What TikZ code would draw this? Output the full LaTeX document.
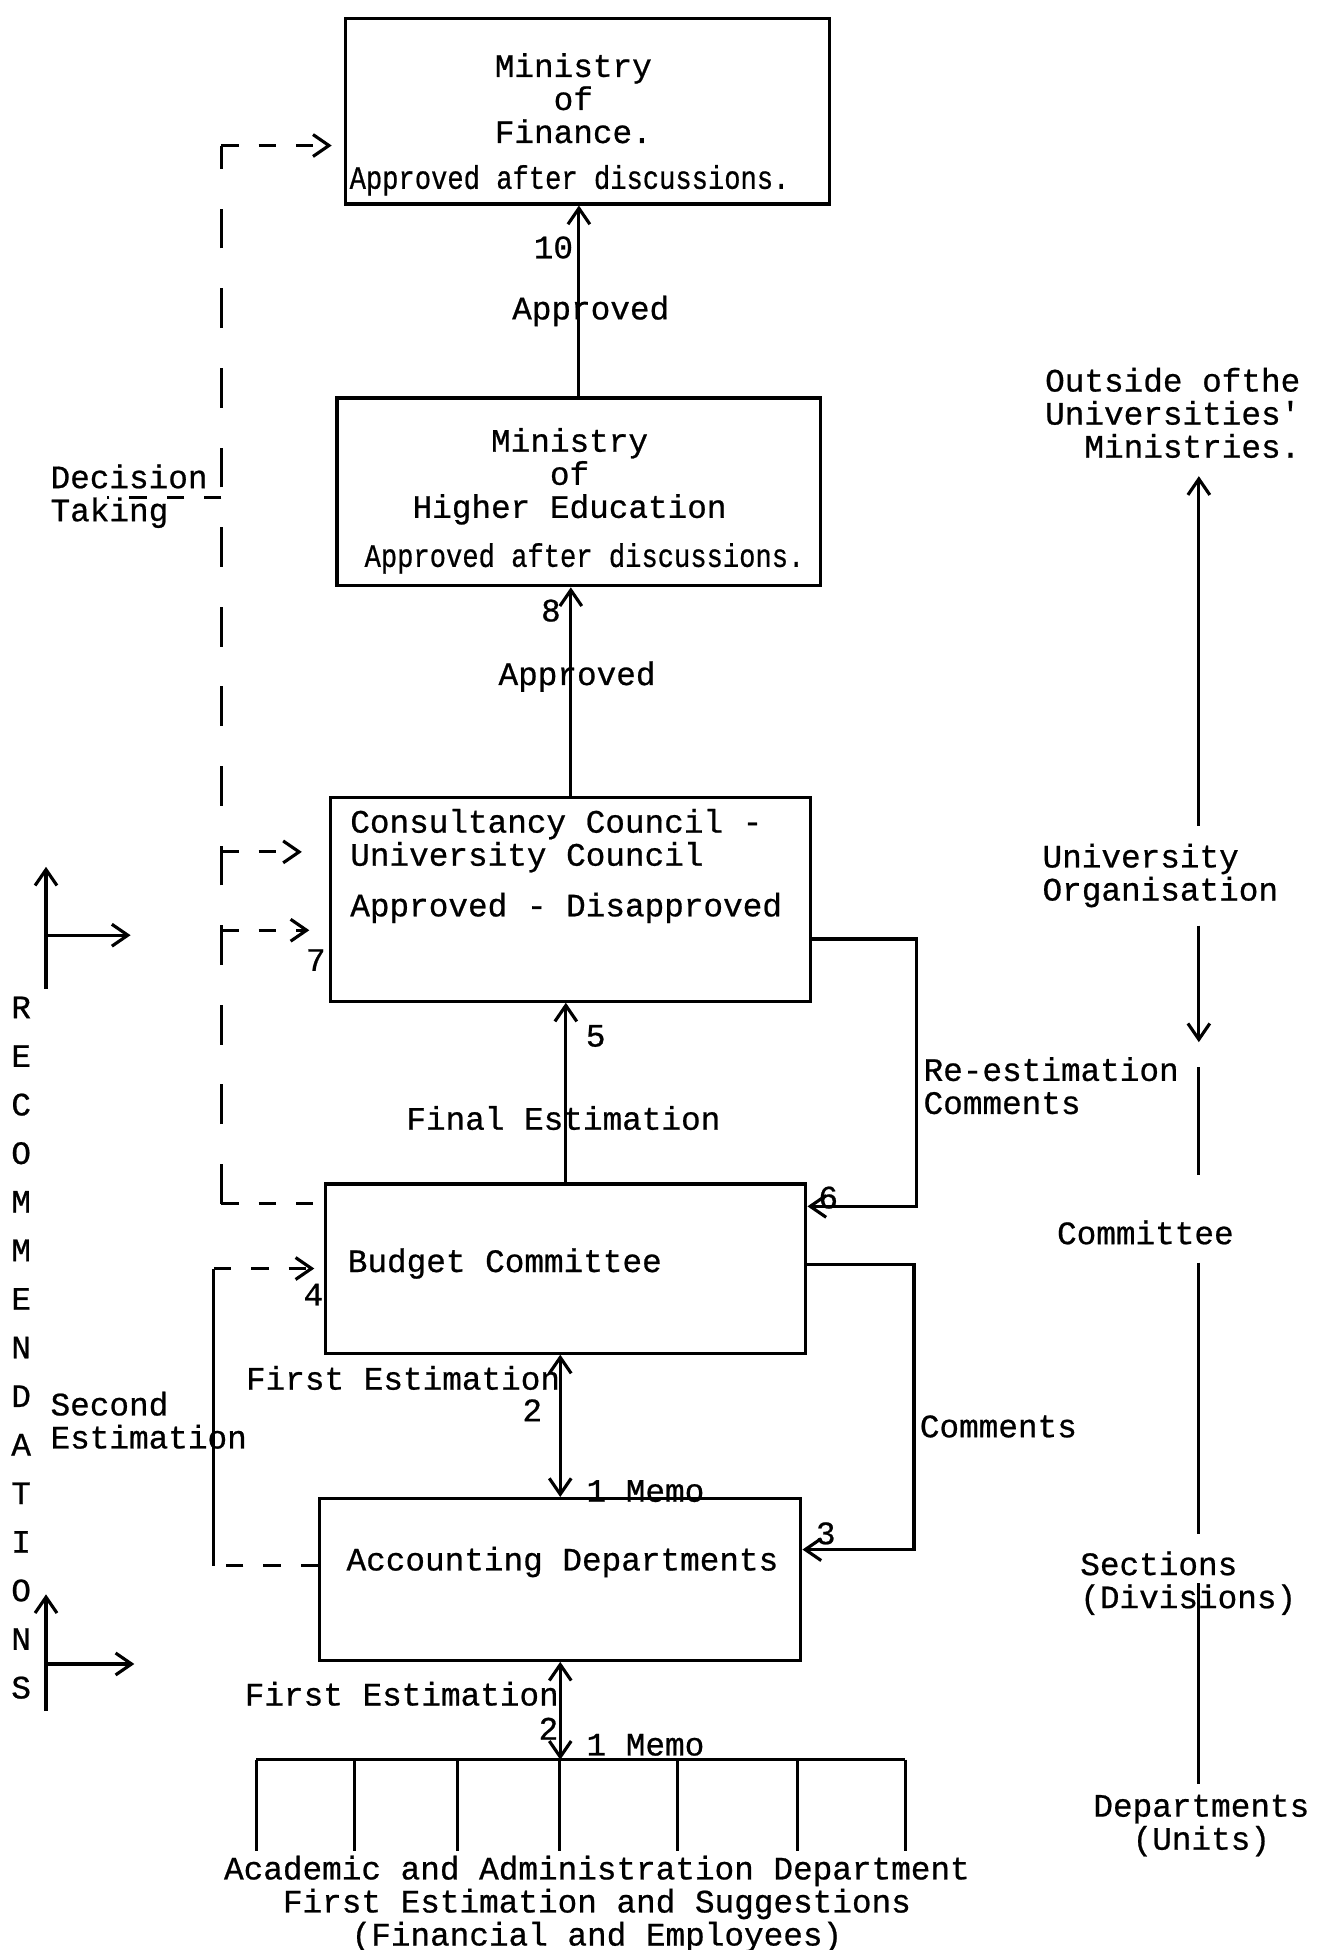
\documentclass[tikz,border=0pt]{standalone}
\usepackage{fontspec}
\setmonofont{Liberation Mono}[FakeBold=0.7]
\usetikzlibrary{arrows.meta,fit}
\tikzset {>={Straight Barb[length=3.2mm,width=4.4mm]}}
\newcommand\lblfont{\fontsize{18.7pt}{18.9pt}\selectfont\ttfamily}
\newcommand\narrow[1]{\scalebox{0.83}[1]{#1}}

\begin{document}
\begin{tikzpicture}[x=0.025cm,y=-0.025cm,line width=1.8pt,
  box/.style={draw,inner sep=0pt},
  lbl/.style={font=\lblfont,inner sep=1pt},
  longdash/.style={dash pattern=on 0.8cm off 0.8cm},
  shortdash/.style={dash pattern=on 0.35cm off 0.4cm}]
\useasboundingbox (0,0) rectangle (1067,1568);

% the five boxes
\node[box,fit={(278,15) (667,164)}] (fin) {};
\node[box,fit={(271,320) (660,471)}] (hed) {};
\node[box,fit={(266,641) (652,805)}] (cons) {};
\node[box,fit={(262,952) (648,1088)}] (bud) {};
\node[box,fit={(257,1205) (644,1335)}] (acc) {};

\node[lbl,align=center] (finT) at (461,79) {Ministry\\of\\Finance.};
\node[lbl] (finA) at (458,145) {\narrow{Approved after discussions.}};
\node[lbl,align=center] (hedT) at (458,383) {Ministry\\of\\Higher Education};
\node[lbl] (hedA) at (470,449) {\narrow{Approved after discussions.}};
\node[lbl,anchor=west,align=left] (consT) at (279,676) {Consultancy Council -\\University Council};
\node[lbl,anchor=west] (consA) at (279,730) {Approved - Disapproved};
\node[lbl,anchor=west] (budT) at (277,1016) {Budget Committee};
\node[lbl,anchor=west] (accT) at (276,1256) {Accounting Departments};

% upward flow
\draw[->] (hed.north) -- (hed.north |- fin.south);
\draw[->] (cons.north) -- (cons.north |- hed.south);
\draw[->] (bud.north) -- (bud.north |- cons.south);
\draw[<->] (acc.north) -- (acc.north |- bud.south);

\node[lbl] (l10) at (445,199) {10};
\node[lbl] (ap1) at (475,250) {Approved};
\node[lbl] (l8) at (443,491) {8};
\node[lbl] (ap2) at (464,544) {Approved};
\node[lbl] (l5) at (479,833) {5};
\node[lbl] (fe) at (453,899) {Final Estimation};
\node[lbl,anchor=east] (fe1) at (453,1108) {First Estimation};
\node[lbl] (l2a) at (428,1134) {2};
\node[lbl,anchor=west] (m1) at (469,1199) {1 Memo};
\node[lbl,anchor=east] (fe2) at (452,1362) {First Estimation};
\node[lbl] (l2b) at (441,1390) {2};
\node[lbl,anchor=west] (m2) at (469,1403) {1 Memo};

% departments
\node[lbl,align=center] (dept) at (480,1531) {Academic and Administration Department\\First Estimation and Suggestions\\(Financial and Employees)};
\coordinate (busL) at (206,1415);
\coordinate (busR) at (728,1415);
\draw (busL) -- (busR);
\foreach \x in {206,285,368,450,545,641,728}
  \draw (\x,1415) -- (\x,1488);
\draw[<->] (acc.south) -- (acc.south |- busL);

% comments back down
\coordinate (reT) at (737,755);
\coordinate (reB) at (737,970);
\draw[->] (reT -| cons.east) -- (reT) -- (reB) -- (reB -| bud.east);
\coordinate (cmT) at (735,1017);
\coordinate (cmB) at (735,1246);
\draw[->] (cmT -| bud.east) -- (cmT) -- (cmB) -- (cmB -| acc.east);
\node[lbl] (l6) at (666,963) {6};
\node[lbl] (l3) at (664,1233) {3};
\node[lbl,anchor=west,align=left] (reest) at (740,873) {Re-estimation\\Comments};
\node[lbl,anchor=west] (comt) at (737,1147) {Comments};

% second estimation
\coordinate (seT) at (172,1020);
\coordinate (seB) at (172,1259);
\draw[shortdash] (seB -| acc.west) -- (seB);
\draw (seB) -- (seT);
\draw[shortdash,->,shorten >=0.2cm] (seT) -- (seT -| bud.west);
\node[lbl] (l4) at (252,1041) {4};
\node[lbl,anchor=west,align=left] (second) at (38,1142) {Second\\Estimation};

% decision taking
\coordinate (dtT) at (178,117);
\coordinate (dtB) at (178,968);
\coordinate (dtD) at (178,400);
\coordinate (dtL) at (86,400);
\coordinate (dtC1) at (178,685);
\coordinate (dtC2) at (178,748);
\draw[longdash] (dtB) -- (dtT);
\draw[shortdash] (dtB) -- (dtB -| bud.west);
\draw[shortdash,->,shorten >=0.25cm] (dtT) -- (dtT -| fin.west);
\draw[shortdash] (dtD) -- (dtL);
\draw[shortdash,->,shorten >=0.55cm] (dtC1) -- (dtC1 -| cons.west);
\draw[shortdash,->,shorten >=0.4cm] (dtC2) -- (dtC2 -| cons.west);
\node[lbl] (l7) at (254,772) {7};
\node[lbl,anchor=west,align=left] (dec) at (38,399) {Decision\\Taking};

% recommendations
\foreach \ch [count=\i] in {R,E,C,O,M,M,E,N,D,A,T,I,O,N,S}
  \node[lbl] (rec\i) at (17,{771+39.07*\i}) {\ch};
\coordinate (ra) at (37,752);
\coordinate (raT) at (37,697);
\coordinate (raB) at (37,795);
\coordinate (raR) at (105,752);
\draw[->] (raB) -- (raT);
\draw[->] (ra) -- (raR);
\coordinate (rb) at (37,1338);
\coordinate (rbT) at (37,1282);
\coordinate (rbB) at (37,1376);
\coordinate (rbR) at (108,1338);
\draw[->] (rbB) -- (rbT);
\draw[->] (rb) -- (rbR);

% levels on the right
\node[lbl,align=right] (outside) at (943,332) {Outside ofthe\\Universities'\\Ministries.};
\node[lbl,align=left] (uniorg) at (933,704) {University\\Organisation};
\node[lbl] (comm) at (921,991) {Committee};
\node[lbl,anchor=west,align=left] (sect) at (866,1273) {Sections\\(Divisions)};
\node[lbl,align=center] (depts) at (966,1468) {Departments\\(Units)};
\coordinate (oc) at (964,0);
\coordinate (oc1) at (964,838);
\coordinate (oc2) at (964,858);
\draw[->,shorten <=0.3cm,shorten >=0.3cm] (uniorg.north -| oc) -- (outside.south -| oc);
\draw[->,shorten <=0.3cm] (uniorg.south -| oc) -- (oc1);
\draw[shorten >=0.85cm] (oc2) -- (comm.north -| oc);
\draw[shorten <=0.3cm,shorten >=0.28cm] (comm.south -| oc) -- (sect.north -| oc);
\draw[shorten >=0.15cm] (sect.center -| oc) -- (depts.north -| oc);
\end{tikzpicture}
\end{document}
